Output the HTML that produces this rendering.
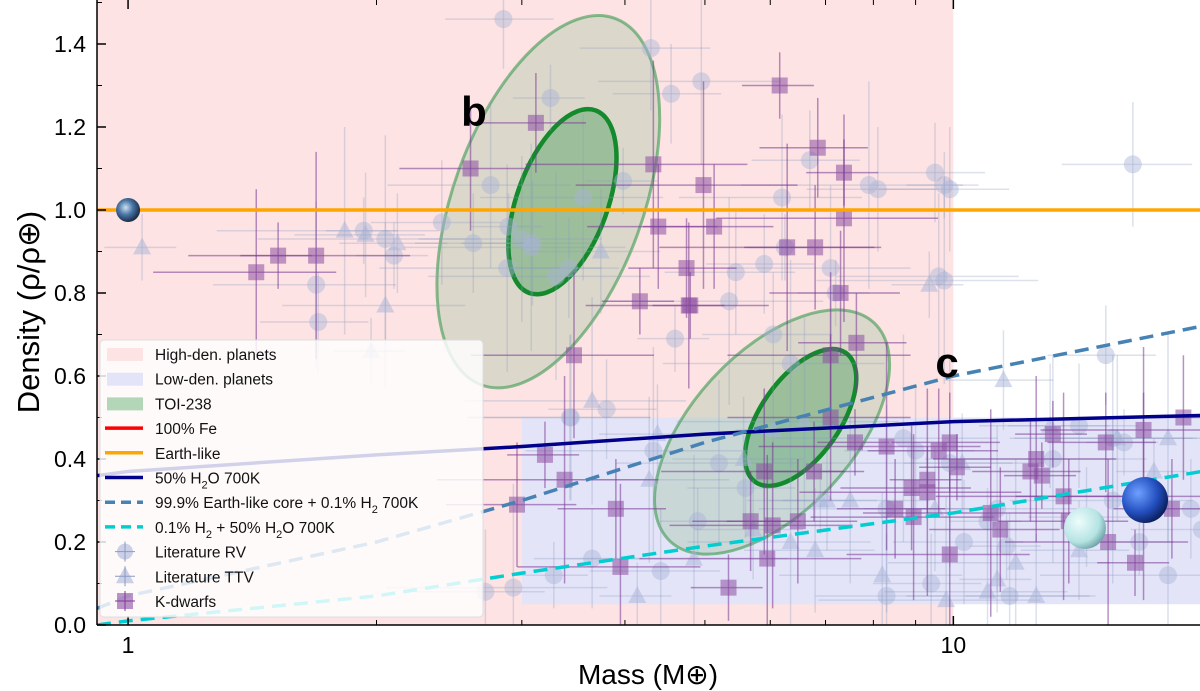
<!DOCTYPE html>
<html><head><meta charset="utf-8"><style>
body{margin:0;background:#fff}
svg{display:block;font-family:"Liberation Sans","DejaVu Sans",sans-serif}
</style></head><body>
<svg id="chart" width="1200" height="691" viewBox="0 0 1200 691" xmlns="http://www.w3.org/2000/svg">
<defs>
<clipPath id="clip"><rect x="97" y="0" width="1103" height="625"/></clipPath>
<radialGradient id="gEarth" cx="0.4" cy="0.4" r="0.6"><stop offset="0" stop-color="#cfe0f0"/><stop offset="0.5" stop-color="#4a77a8"/><stop offset="1" stop-color="#1b2f4a"/></radialGradient>
<radialGradient id="gNep" cx="0.35" cy="0.35" r="0.7"><stop offset="0" stop-color="#6fa0ff"/><stop offset="0.6" stop-color="#2450c0"/><stop offset="1" stop-color="#0b1d5a"/></radialGradient>
<radialGradient id="gUra" cx="0.35" cy="0.35" r="0.7"><stop offset="0" stop-color="#eefcfc"/><stop offset="0.7" stop-color="#b5e3e3"/><stop offset="1" stop-color="#6fa3a8"/></radialGradient>
</defs>
<g id="plot" clip-path="url(#clip)"></g>
<g id="axes"></g>
<g id="legend"></g>
</svg>
<script>
const massDomain=[0.917,19.9];
const densDomain=[0,1.506];
const highRegion={m:[0.917,10],d:[0,1.51]};
const lowRegion={m:[3,25],d:[0.05,0.5]};
const earthLike=1.0;
const h2oMass=[0.917,1,2,3,5,10,20];
const h2oDens=[0.36,0.37,0.41,0.43,0.46,0.49,0.505];
const coreH2Mass=[0.917,1,2,3,5,10,20];
const coreH2Dens=[0.04,0.07,0.2,0.3,0.44,0.6,0.72];
const h2H2oMass=[0.917,1,2,3,5,10,20];
const h2H2oDens=[0.0,0.01,0.07,0.125,0.19,0.27,0.37];
const ellB={m:3.23,d:1.02,w:0.115,h:0.47,rot:20};
const ellBin={m:3.36,d:1.02,w:0.055,h:0.234,rot:20};
const ellC={m:6.03,d:0.465,w:0.097,h:0.36,rot:43};
const ellCin={m:6.53,d:0.5,w:0.048,h:0.19,rot:35};
const kdM=[1.43,1.52,1.69,2.6,3.12,3.47,4.17,4.33,4.39,4.75,4.78,4.8,4.98,5.13,5.68,6.04,6.16,6.29,6.8,6.85,7.1,7.37,7.37,7.3,7.63,5.9,3.2,3.38,2.96,3.9,3.95,5.34,5.95,6.48,6.78,7.1,7.6,8.3,8.9,8.5,8.95,9.3,9.3,9.6,9.9,9.9,10.1,11.1,11.4,12.4,12.6,13.2,13.6,13.8,15.3,15.4,16.6,17.0,19.0,18.4,17.0,12.8];
const kdD=[0.85,0.89,0.89,1.1,1.21,0.65,0.78,1.11,0.96,0.86,0.77,0.77,1.06,0.96,0.25,0.24,1.3,0.91,0.91,1.15,0.65,1.09,0.98,0.8,0.68,0.37,0.41,0.35,0.29,0.28,0.14,0.09,0.16,0.25,0.37,0.5,0.44,0.43,0.33,0.28,0.26,0.35,0.32,0.42,0.44,0.17,0.38,0.27,0.23,0.37,0.40,0.46,0.31,0.25,0.44,0.2,0.15,0.31,0.5,0.28,0.47,0.36];
const rvM=[2.85,3.0,3.25,3.3,4.3,4.55,4.95,3.98,5.35,5.45,5.9,6.2,6.25,6.35,6.05,6.7,7.1,7.2,7.9,8.1,9.5,9.6,9.75,9.75,9.9,1.7,1.69,1.93,2.05,2.4,2.62,2.75,2.89,2.88,3.09,3.42,3.56,2.1,3.08,16.5,14.5,15.6,16.8,18.2,20,19.4,11.3,11.6,13.2,14.2,15.3,15.6,16.1,8.3,8.3,9.4,11.7,11.0,9.9,9.0,5.6,5.2,4.9,4.33,4.42,3.8,3.44,3.28,2.93,2.71,3.65,3.43,4.6,8.7,10.3];
const rvD=[1.46,0.93,1.27,0.84,1.39,1.28,1.31,1.07,0.78,0.85,0.87,1.03,0.91,0.63,0.7,1.12,0.86,0.8,1.06,1.05,1.09,0.84,1.06,0.83,1.05,0.73,0.82,0.95,0.93,0.97,0.92,1.06,0.96,0.86,0.92,0.86,1.03,0.89,0.91,1.11,0.26,0.3,0.2,0.12,0.23,0.28,0.28,0.19,0.4,0.48,0.65,0.45,0.44,0.28,0.07,0.1,0.07,0.25,0.39,0.42,0.33,0.39,0.25,0.42,0.13,0.52,0.5,0.12,0.09,0.08,0.16,0.5,0.69,0.45,0.2];
const ttvM=[1.04,1.83,1.94,2.12,2.05,1.97,3.65,3.74,4.38,4.28,4.14,4.85,5.57,5.72,6.35,6.05,6.6,6.8,7.03,8.2,9.35,9.8,9.5,10.25,11.0,11.3,11.9,12.6,14.2,15.8,17.5,18.2,13.1,11.5,7.5,6.9];
const ttvD=[0.91,0.95,0.94,0.92,0.77,0.66,0.54,0.9,0.46,0.35,0.07,0.16,0.4,0.23,0.2,0.47,0.49,0.18,0.3,0.12,0.82,0.06,0.28,0.39,0.08,0.11,0.15,0.07,0.18,0.45,0.37,0.45,0.48,0.59,0.3,0.3];
const xTicks=[1,10];const xTickLabels=["1","10"];
const xMinor=[2,3,4,5,6,7,8,9,20];
const yTicks=[0,0.2,0.4,0.6,0.8,1.0,1.2,1.4];const yTickLabels=["0.0","0.2","0.4","0.6","0.8","1.0","1.2","1.4"];
const yMinor=[0.1,0.3,0.5,0.7,0.9,1.1,1.3,1.5];

const X0=97,X1=1200,Y0=625,Y1=0;
const lx0=Math.log10(massDomain[0]),lx1=Math.log10(massDomain[1]);
const pxDec=(X1-X0)/(lx1-lx0), pxUnit=(Y0-Y1)/(densDomain[1]-densDomain[0]);
function sx(m){return X0+(Math.log10(m)-lx0)*pxDec;}
function sy(d){return Y0-(d-densDomain[0])*pxUnit;}
const NS="http://www.w3.org/2000/svg";
function mk(tag,attrs,parent){const e=document.createElementNS(NS,tag);for(const k in attrs)e.setAttribute(k,attrs[k]);parent.appendChild(e);return e;}
const plot=document.getElementById('plot'),axes=document.getElementById('axes'),leg=document.getElementById('legend');

let r=mk('rect',{x:sx(highRegion.m[0]),y:sy(highRegion.d[1]),width:sx(highRegion.m[1])-sx(highRegion.m[0]),height:sy(highRegion.d[0])-sy(highRegion.d[1]),fill:'#fde3e3'},plot);


r=mk('rect',{x:sx(lowRegion.m[0]),y:sy(lowRegion.d[1]),width:sx(lowRegion.m[1])-sx(lowRegion.m[0]),height:sy(lowRegion.d[0])-sy(lowRegion.d[1]),fill:'#e4e4f8'},plot);



function ell(e,fill,op,stroke,sw,so,name){
 const cx=sx(e.m),cy=sy(e.d);
 const rx=e.w*pxDec, ry=e.h*pxUnit;
 const el=mk('ellipse',{cx:cx,cy:cy,rx:rx,ry:ry,transform:`rotate(${e.rot} ${cx} ${cy})`,fill:fill,'fill-opacity':op,stroke:stroke,'stroke-width':sw,'stroke-opacity':so},plot);
 
 
}
ell(ellB,'#9bbf9b',0.35,'#3a9a50',3,0.6,'toi238b-outer-contour');
ell(ellBin,'#4f9f5f',0.45,'#138a2c',4.5,1,'toi238b-inner-contour');
ell(ellC,'#9bbf9b',0.35,'#3a9a50',3,0.6,'toi238c-outer-contour');
ell(ellCin,'#4f9f5f',0.45,'#138a2c',4.5,1,'toi238c-inner-contour');

function errs(i,m,d,col,op,sw,g){
 const ex=[0.15,0.25,0.1,0.3,0.18][i%5], ey=[0.12,0.2,0.08,0.25,0.15][i%5];
 mk('line',{x1:sx(m*(1-ex)),x2:sx(m*(1+ex)),y1:sy(d),y2:sy(d),stroke:col,'stroke-opacity':op,'stroke-width':sw},g);
 mk('line',{x1:sx(m),x2:sx(m),y1:sy(d-ey),y2:sy(d+ey),stroke:col,'stroke-opacity':op,'stroke-width':sw},g);
}
rvM.forEach((m,i)=>{const g=mk('g',{},plot);
 
 
 errs(i,m,rvD[i],'#8a9ac0',0.3,1.5,g);
 mk('circle',{cx:sx(m),cy:sy(rvD[i]),r:9,fill:'#a8b4d8','fill-opacity':0.45},g);});
ttvM.forEach((m,i)=>{const g=mk('g',{},plot);
 
 
 errs(i+2,m,ttvD[i],'#8a9ac0',0.3,1.5,g);
 const x=sx(m),y=sy(ttvD[i]);
 mk('polygon',{points:`${x},${y-10} ${x-9},${y+7} ${x+9},${y+7}`,fill:'#a8b4d8','fill-opacity':0.5},g);});
kdM.forEach((m,i)=>{const g=mk('g',{},plot);
 
 
 errs(i+1,m,kdD[i],'#7a3a95',0.55,1.5,g);
 mk('rect',{x:sx(m)-8,y:sy(kdD[i])-8,width:16,height:16,fill:'#8a4fa2','fill-opacity':0.55},g);});

function line(ms,ds,col,w,dash,name){
 const p=ms.map((m,i)=>sx(m)+','+sy(ds[i])).join(' ');
 const l=mk('polyline',{points:p,fill:'none',stroke:col,'stroke-width':w,'stroke-dasharray':dash||'none'},plot);
 
 
}
line(h2oMass,h2oDens,'#00008b',3.5,null,'h2o-50-line');
line(coreH2Mass,coreH2Dens,'#4682b4',3.5,'14 8','earthcore-h2-line');
line(h2H2oMass,h2H2oDens,'#00ced1',3.5,'14 8','h2-h2o-line');
line([0.9,25],[earthLike,earthLike],'#ffa500',3.5,null,'earth-like-line');

let p=mk('circle',{cx:sx(1),cy:sy(1),r:12,fill:'url(#gEarth)'},plot);

p=mk('circle',{cx:1085,cy:528,r:21,fill:'url(#gUra)'},plot);

p=mk('circle',{cx:1145,cy:500,r:23,fill:'url(#gNep)'},plot);


let t=mk('text',{x:474,y:126,'font-size':42,'font-weight':'bold','text-anchor':'middle'},plot);t.textContent='b';

t=mk('text',{x:947,y:377,'font-size':42,'font-weight':'bold','text-anchor':'middle'},plot);t.textContent='c';


mk('line',{x1:X0,y1:0,x2:X0,y2:Y0,stroke:'#000','stroke-width':1.5},axes);
mk('line',{x1:X0,y1:Y0,x2:1200,y2:Y0,stroke:'#000','stroke-width':1.5},axes);
xTicks.forEach((v,i)=>{const x=sx(v);
 mk('line',{x1:x,x2:x,y1:Y0,y2:Y0-9,stroke:'#000','stroke-width':1.5},axes);
 mk('line',{x1:x,x2:x,y1:0,y2:9,stroke:'#000','stroke-width':1.5},axes);
 const tt=mk('text',{x:x,y:Y0+28,'font-size':23,'text-anchor':'middle'},axes);tt.textContent=xTickLabels[i];
 });
xMinor.forEach(v=>{const x=sx(v);
 mk('line',{x1:x,x2:x,y1:Y0,y2:Y0-5,stroke:'#000','stroke-width':1},axes);
 mk('line',{x1:x,x2:x,y1:0,y2:5,stroke:'#000','stroke-width':1},axes);});
yTicks.forEach((v,i)=>{const y=sy(v);
 mk('line',{x1:X0,x2:X0+9,y1:y,y2:y,stroke:'#000','stroke-width':1.5},axes);
 const tt=mk('text',{x:86,y:y+8,'font-size':23,'text-anchor':'end'},axes);tt.textContent=yTickLabels[i];
 });
yMinor.forEach(v=>{const y=sy(v);mk('line',{x1:X0,x2:X0+5,y1:y,y2:y,stroke:'#000','stroke-width':1},axes);});
t=mk('text',{x:648,y:684,'font-size':28,'text-anchor':'middle'},axes);t.textContent='Mass (M⊕)';

t=mk('text',{x:0,y:0,'font-size':31,'text-anchor':'middle',transform:'translate(39,312) rotate(-90)'},axes);t.textContent='Density (ρ/ρ⊕)';


const lb=mk('rect',{x:100,y:340,width:383,height:277,rx:4,fill:'#fff','fill-opacity':0.82,stroke:'#ddd'},leg);

const entries=[['patch','#fde3e3','High-den. planets'],['patch','#e4e4f8','Low-den. planets'],['patch','#b3d6b8','TOI-238'],['line','#ff0000','100% Fe'],['line','#ffa500','Earth-like'],['line','#00008b','50% H<tspan dy="5" font-size="11">2</tspan><tspan dy="-5">O 700K</tspan>'],['dash','#4682b4','99.9% Earth-like core + 0.1% H<tspan dy="5" font-size="11">2</tspan><tspan dy="-5"> 700K</tspan>'],['dash','#00ced1','0.1% H<tspan dy="5" font-size="11">2</tspan><tspan dy="-5"> + 50% H</tspan><tspan dy="5" font-size="11">2</tspan><tspan dy="-5">O 700K</tspan>'],['circ','#a8b4d8','Literature RV'],['tri','#a8b4d8','Literature TTV'],['sq','#8a4fa2','K-dwarfs']];
entries.forEach((e,i)=>{const y=354+i*24.7;const g=mk('g',{},leg);
 
 if(e[0]=='patch')mk('rect',{x:107,y:y-6,width:36,height:13,fill:e[1]},g);
 else if(e[0]=='line')mk('line',{x1:105,x2:143,y1:y,y2:y,stroke:e[1],'stroke-width':3.5},g);
 else if(e[0]=='dash')mk('line',{x1:105,x2:143,y1:y,y2:y,stroke:e[1],'stroke-width':3.5,'stroke-dasharray':'10 6'},g);
 else if(e[0]=='circ'){mk('circle',{cx:125,cy:y,r:8,fill:e[1],'fill-opacity':0.6},g);mk('path',{d:`M115 ${y}H135M125 ${y-10}V${y+10}`,stroke:'#8a9ac0','stroke-width':1},g);}
 else if(e[0]=='tri'){mk('polygon',{points:`125,${y-10} 116,${y+7} 134,${y+7}`,fill:e[1],'fill-opacity':0.6},g);mk('path',{d:`M115 ${y}H135M125 ${y-10}V${y+10}`,stroke:'#8a9ac0','stroke-width':1},g);}
 else {mk('rect',{x:117,y:y-8,width:16,height:16,fill:e[1],'fill-opacity':0.6},g);mk('path',{d:`M115 ${y}H135M125 ${y-10}V${y+10}`,stroke:'#7a3a95','stroke-width':1},g);}
 const tt=mk('text',{x:155,y:y+6,'font-size':15.5,fill:'#111'},g);tt.innerHTML=e[2];});
</script>
</body></html>
